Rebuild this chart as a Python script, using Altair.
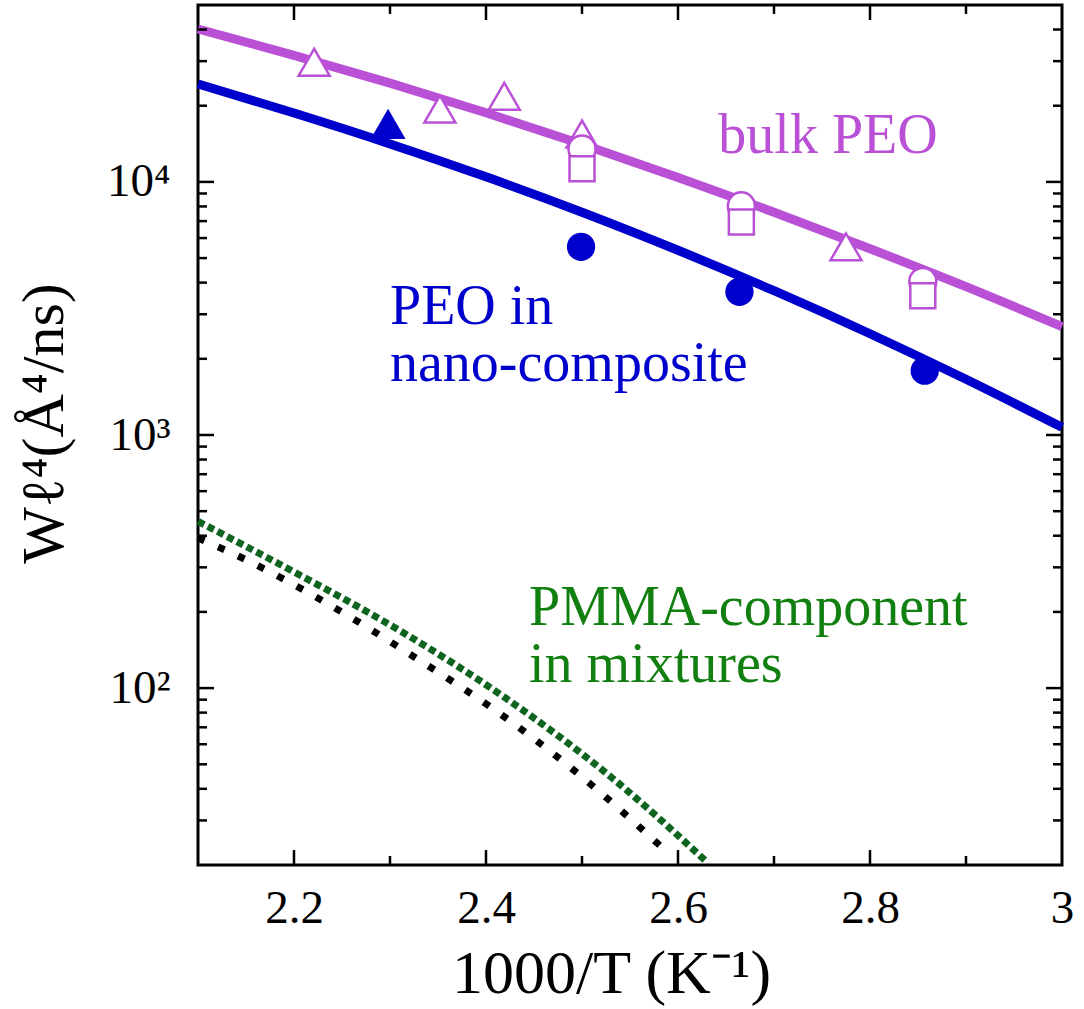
import altair as alt
import pandas as pd

# ---------------- data ----------------
curve_x = [2.1, 2.2, 2.3, 2.4, 2.5, 2.6, 2.7, 2.8, 2.9, 3.0]
bulk_curve = [40180, 31620, 24550, 18750, 14090, 10420, 7590, 5445, 3855, 2680]
nano_curve = [24380, 18710, 14130, 10470, 7590, 5370, 3715, 2512, 1660, 1072]

pmma_x = [2.1, 2.202, 2.311, 2.421, 2.530, 2.631]
pmma_y = [456, 285, 168, 91, 44.6, 20.4]
black_x = [2.1, 2.151, 2.231, 2.329, 2.409, 2.49, 2.5875]
black_y = [392, 320, 220, 130, 82, 47.9, 22.7]

bulk_tri_x = [2.221, 2.352, 2.419, 2.5, 2.775]
bulk_tri_y = [29700, 19400, 21800, 15460, 5540]
bulk_circ_x = [2.5, 2.666, 2.855]
bulk_circ_y = [13500, 8040, 4040]
bulk_sq_x = [2.5, 2.666, 2.855]
bulk_sq_y = [11260, 6950, 3550]
nano_circ_x = [2.499, 2.664, 2.857]
nano_circ_y = [5540, 3680, 1795]
nano_tri_x = [2.298]
nano_tri_y = [16950]

ann_text = ["bulk PEO", "PEO in", "nano-composite", "PMMA-component", "in mixtures"]
ann_x = [2.642, 2.3, 2.3, 2.4448, 2.4448]
ann_y = [13015, 2753, 1641, 177.2, 105.6]
ann_group = ["bulk", "nano", "nano", "pmma", "pmma"]

x_labels = [2.2, 2.4, 2.6, 2.8, 3.0]
x_major = [2.2, 2.4, 2.6, 2.8]
x_minor = [2.3, 2.5, 2.7, 2.9]
y_major = [100, 1000, 10000]
y_minor = [30, 40, 50, 60, 70, 80, 90,
           200, 300, 400, 500, 600, 700, 800, 900,
           2000, 3000, 4000, 5000, 6000, 7000, 8000, 9000,
           20000, 30000, 40000]

# ---------------- style ----------------
MAGENTA = "#b950d6"
BLUE = "#0000cc"
GREEN_TXT = "#118011"
GREEN_DOT = "#0f6420"
FONT = "Liberation Serif"
W, H = 864, 860

xs = alt.Scale(domain=[2.1, 3.0], nice=False, zero=False)
ys = alt.Scale(type="log", domain=[20, 50000], nice=False)

x_axis = alt.Axis(values=x_labels, format=".1~f", ticks=False, tickSize=0, domain=False,
                  grid=False, labelFont=FONT, labelFontSize=47, labelColor="black",
                  labelPadding=20, labelFlush=False, labelOverlap=False,
                  title="1000/T (K\u207b\u00b9)", titleFont=FONT, titleFontSize=62,
                  titleFontWeight="normal", titleColor="black", titleX=413, titleY=127,
                  titleAlign="center", titleBaseline="alphabetic")
y_axis = alt.Axis(values=y_major,
                  labelExpr="datum.value < 500 ? '10\u00b2' : (datum.value < 5000 ? '10\u00b3' : '10\u2074')",
                  ticks=False, tickSize=0, domain=False, grid=False, labelFont=FONT,
                  labelFontSize=47, labelColor="black", labelPadding=28, labelFlush=False,
                  labelOverlap=False,
                  title="W\u2113\u2074(\u00c5\u2074/ns)", titleFont=FONT, titleFontSize=60,
                  titleFontWeight="normal", titleColor="black", titleX=-136, titleY=418,
                  titleAngle=270, titleAlign="center", titleBaseline="alphabetic")

XE = alt.X("x:Q", scale=xs, axis=x_axis)
YE = alt.Y("y:Q", scale=ys, axis=y_axis)


def enc(chart):
    return chart.encode(x=XE, y=YE)


def df(xv, yv):
    return pd.DataFrame({"x": xv, "y": yv})


layers = []
layers.append(enc(alt.Chart(df(curve_x, bulk_curve)).mark_line(
    color=MAGENTA, strokeWidth=9, interpolate="monotone", strokeCap="butt")))
layers.append(enc(alt.Chart(df(curve_x, nano_curve)).mark_line(
    color=BLUE, strokeWidth=9, interpolate="monotone", strokeCap="butt")))
layers.append(enc(alt.Chart(df(black_x, black_y)).mark_line(
    color="black", strokeWidth=7, strokeDash=[7, 15], interpolate="monotone", strokeCap="butt")))
layers.append(enc(alt.Chart(df(pmma_x, pmma_y)).mark_line(
    color=GREEN_DOT, strokeWidth=7, strokeDash=[7, 4], interpolate="monotone", strokeCap="butt")))
layers.append(enc(alt.Chart(df(bulk_tri_x, bulk_tri_y)).mark_point(
    shape="triangle-up", size=961, filled=True, fill="white", stroke=MAGENTA,
    strokeWidth=2.5, opacity=1)))
layers.append(enc(alt.Chart(df(bulk_circ_x, bulk_circ_y)).mark_point(
    shape="circle", size=730, filled=True, fill="white", stroke=MAGENTA,
    strokeWidth=2.5, opacity=1)))
layers.append(enc(alt.Chart(df(bulk_sq_x, bulk_sq_y)).mark_point(
    shape="square", size=625, filled=True, fill="white", stroke=MAGENTA,
    strokeWidth=2.5, opacity=1)))
layers.append(enc(alt.Chart(df(nano_circ_x, nano_circ_y)).mark_point(
    shape="circle", size=800, filled=True, color=BLUE, opacity=1)))
layers.append(enc(alt.Chart(df(nano_tri_x, nano_tri_y)).mark_point(
    shape="triangle-up", size=1225, filled=True, color=BLUE, opacity=1)))

ann_df = pd.DataFrame({"x": ann_x, "y": ann_y, "t": ann_text, "g": ann_group})
layers.append(enc(alt.Chart(ann_df).mark_text(
    align="left", baseline="alphabetic", font=FONT, fontSize=56)).encode(
    text="t:N",
    color=alt.Color("g:N", scale=alt.Scale(domain=["bulk", "nano", "pmma"],
                                            range=[MAGENTA, BLUE, GREEN_TXT]), legend=None)))

TICK = dict(color="black", strokeWidth=2.5)
ymaj = pd.DataFrame({"y": y_major})
ymin = pd.DataFrame({"y": y_minor})
xmaj = pd.DataFrame({"x": x_major})
xmin = pd.DataFrame({"x": x_minor})
for d, L in ((ymaj, 16), (ymin, 9)):
    layers.append(alt.Chart(d).mark_rule(**TICK).encode(y=YE, x=alt.value(0), x2=alt.value(L)))
    layers.append(alt.Chart(d).mark_rule(**TICK).encode(y=YE, x=alt.value(W), x2=alt.value(W - L)))
for d, L in ((xmaj, 15), (xmin, 9)):
    layers.append(alt.Chart(d).mark_rule(**TICK).encode(x=XE, y=alt.value(H), y2=alt.value(H - L)))
    layers.append(alt.Chart(d).mark_rule(**TICK).encode(x=XE, y=alt.value(0), y2=alt.value(L)))

chart = alt.layer(*layers).properties(
    width=W, height=H,
    autosize=alt.AutoSizeParams(type="none"),
    padding={"left": 198, "top": 5, "right": 22, "bottom": 144},
    background="white",
).configure_view(stroke="black", strokeWidth=3)

chart.save("out.html", embed_options={"renderer": "svg", "actions": False})
